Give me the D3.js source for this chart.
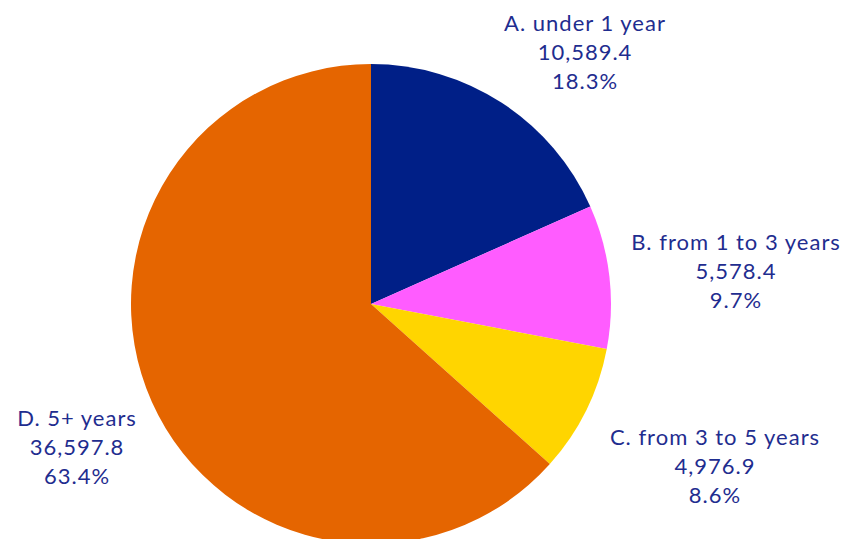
<!DOCTYPE html>
<html>
<head>
<meta charset="utf-8">
<script src="https://cdn.jsdelivr.net/npm/d3@7"></script>
<style>
  html, body { margin: 0; padding: 0; background: #fff; }
  svg { display: block; }
  text { font-family: "Lato", "Noto Sans", sans-serif; }
</style>
</head>
<body>
<svg id="chart" width="848" height="539"></svg>
<script>
// Maturity breakdown
const categories = ["A. under 1 year", "B. from 1 to 3 years", "C. from 3 to 5 years", "D. 5+ years"];
const values = [10589.4, 5578.4, 4976.9, 36597.8];
const colors = ["#001f87", "#ff5cff", "#ffd500", "#e56500"];

// Label block centres (x, y of the middle line)
const labelPos = [[585, 52], [736, 271], [715, 466], [77, 447]];

const W = 848, H = 539;
const cx = 371, cy = 304, R = 240;

const svg = d3.select("#chart");
const g = svg.append("g").attr("transform", `translate(${cx},${cy})`);

const pie = d3.pie().sort(null).value(d => d.value);
const data = categories.map((c, i) => ({ name: c, value: values[i], color: colors[i] }));
const arcs = pie(data);
const arc = d3.arc().innerRadius(0).outerRadius(R);

g.selectAll("path")
  .data(arcs)
  .enter().append("path")
  .attr("d", arc)
  .attr("fill", d => d.data.color);

const total = d3.sum(values);
const fmtNum = d3.format(",.1f");
const fmtPct = d3.format(".1%");

const lbl = svg.selectAll("g.lbl")
  .data(arcs)
  .enter().append("g")
  .attr("class", "lbl")
  .attr("transform", (d, i) => `translate(${labelPos[i][0]},${labelPos[i][1]})`);

lbl.each(function(d) {
  const lines = [d.data.name, fmtNum(d.data.value), fmtPct(d.data.value / total)];
  d3.select(this).selectAll("text")
    .data(lines)
    .enter().append("text")
    .attr("text-anchor", "middle")
    .attr("y", (t, j) => (j - 1) * 29 + 8)
    .attr("fill", "#1f2d8f")
    .attr("font-size", 22)
    .attr("letter-spacing", 1)
    .text(t => t);
});
</script>
</body>
</html>
